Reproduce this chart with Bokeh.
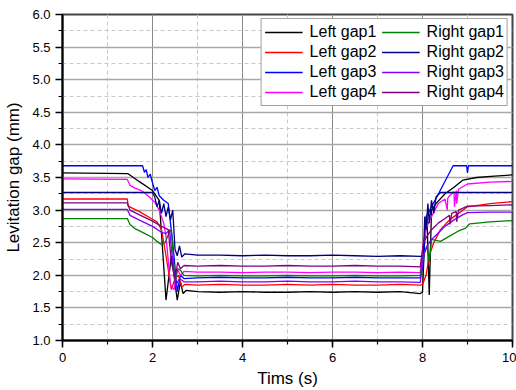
from bokeh.plotting import figure
from bokeh.models import Legend, LegendItem, SingleIntervalTicker, Range1d, CustomJSTickFormatter
from bokeh.embed import file_html
from bokeh.resources import INLINE

FONT = "Liberation Sans"

# ---------------- data ----------------
t_left1 = [0, 1.45, 1.7, 2.0, 2.15, 2.3, 2.42, 2.55, 2.62, 2.68, 2.75, 3.0, 3.5, 4.0, 4.5, 5.0, 5.5,
           6.0, 6.5, 7.0, 7.5, 7.95, 8.0, 8.05, 8.1, 8.15, 8.2, 8.3, 8.5, 8.7, 8.9, 9.2, 9.6, 10]
y_left1 = [3.57, 3.56, 3.44, 3.30, 3.15, 1.62, 2.30, 1.62, 1.90, 1.72, 1.77, 1.75, 1.74, 1.75, 1.74,
           1.74, 1.75, 1.74, 1.75, 1.74, 1.75, 1.72, 1.74, 2.60, 2.90, 1.70, 3.00, 3.10, 3.25, 3.35,
           3.46, 3.50, 3.52, 3.54]

t_left2 = [0, 1.44, 1.46, 1.7, 2.0, 2.1, 2.2, 2.3, 2.42, 2.5, 2.58, 2.65, 2.72, 3.0, 3.5, 4.0, 4.5,
           5.0, 5.5, 6.0, 6.5, 7.0, 7.5, 7.95, 8.0, 8.08, 8.15, 8.25, 8.4, 8.6, 8.8, 9.0, 9.5, 10]
y_left2 = [3.17, 3.17, 3.06, 2.98, 2.86, 2.82, 2.70, 2.30, 1.78, 1.95, 2.00, 1.82, 1.86, 1.85, 1.86,
           1.85, 1.85, 1.86, 1.85, 1.86, 1.85, 1.85, 1.86, 1.85, 1.86, 2.00, 2.30, 2.50, 2.70, 2.85,
           2.95, 3.05, 3.10, 3.13]

t_left3 = [0, 1.78, 1.82, 1.86, 1.9, 1.95, 2.0, 2.05, 2.1, 2.15, 2.25, 2.35, 2.45, 2.55, 2.62, 2.7,
           3.0, 3.5, 4.0, 4.5, 5.0, 5.5, 6.0, 6.5, 7.0, 7.5, 7.95, 8.02, 8.08, 8.2, 8.37, 8.68,
           8.98, 9.0, 9.02, 10]
y_left3 = [3.68, 3.68, 3.58, 3.62, 3.50, 3.55, 3.42, 3.30, 3.35, 3.22, 3.15, 3.10, 2.50, 1.75, 2.00,
           1.95, 1.96, 1.97, 1.96, 1.96, 1.97, 1.96, 1.96, 1.97, 1.96, 1.96, 1.96, 2.20, 2.90, 3.05,
           3.27, 3.68, 3.68, 3.57, 3.68, 3.68]

t_left4 = [0, 1.44, 1.5, 1.6, 1.75, 1.9, 2.05, 2.15, 2.25, 2.3, 2.4, 2.48, 2.55, 2.62, 2.7, 3.0,
           3.5, 4.0, 4.5, 5.0, 5.5, 6.0, 6.5, 7.0, 7.5, 7.95, 8.02, 8.1, 8.2, 8.35, 8.5, 8.55,
           8.56, 8.6, 8.7, 8.71, 8.75, 8.76, 8.8, 9.0, 9.5, 10]
y_left4 = [3.48, 3.47, 3.38, 3.34, 3.30, 3.22, 3.12, 3.00, 2.80, 2.60, 1.85, 1.78, 2.10, 2.00, 2.06,
           2.05, 2.05, 2.04, 2.05, 2.05, 2.04, 2.05, 2.05, 2.04, 2.05, 2.04, 2.50, 2.75, 2.90, 3.10,
           3.17, 3.00, 3.18, 3.22, 3.28, 3.05, 3.30, 3.10, 3.32, 3.40, 3.43, 3.44]

t_right1 = [0, 1.44, 1.5, 1.6, 1.8, 2.0, 2.1, 2.2, 2.28, 2.35, 2.42, 2.5, 2.56, 2.62, 2.7, 3.0,
            3.5, 4.0, 4.5, 5.0, 5.5, 6.0, 6.5, 7.0, 7.5, 7.95, 8.02, 8.1, 8.15, 8.2, 8.4, 8.6,
            8.8, 8.95, 9.05, 9.5, 10]
y_right1 = [2.87, 2.87, 2.78, 2.72, 2.65, 2.58, 2.52, 2.47, 2.50, 2.62, 2.70, 1.90, 2.10, 2.08,
            2.00, 1.99, 2.00, 1.99, 1.99, 2.00, 1.99, 1.99, 2.00, 1.99, 1.99, 2.00, 2.30, 2.45,
            2.20, 2.55, 2.52, 2.60, 2.68, 2.72, 2.79, 2.82, 2.84]

t_right2 = [0, 2.0, 2.05, 2.1, 2.15, 2.2, 2.25, 2.3, 2.35, 2.4, 2.45, 2.5, 2.55, 2.6, 2.65, 2.72,
            3.0, 3.5, 4.0, 4.5, 5.0, 5.5, 6.0, 6.5, 7.0, 7.5, 7.95, 8.02, 8.05, 8.08, 8.12, 8.15,
            8.2, 8.25, 8.3, 8.4, 10]
y_right2 = [3.27, 3.27, 3.20, 3.05, 3.15, 2.95, 3.10, 2.90, 3.05, 2.85, 3.00, 2.40, 2.30, 2.45,
            2.28, 2.33, 2.31, 2.31, 2.30, 2.31, 2.30, 2.30, 2.31, 2.30, 2.29, 2.30, 2.29, 2.30,
            2.90, 2.70, 3.10, 2.80, 3.15, 2.95, 3.20, 3.27, 3.27]

t_right3 = [0, 1.44, 1.5, 1.7, 2.0, 2.2, 2.3, 2.38, 2.45, 2.52, 2.6, 2.7, 3.0, 3.5, 4.0, 4.5, 5.0,
            5.5, 6.0, 6.5, 7.0, 7.5, 7.95, 8.02, 8.1, 8.2, 8.35, 8.5, 8.7, 8.9, 9.0, 9.5, 10]
y_right3 = [3.01, 3.01, 2.92, 2.85, 2.75, 2.66, 2.64, 2.70, 2.20, 1.85, 1.95, 1.90, 1.90, 1.91,
            1.90, 1.90, 1.91, 1.90, 1.90, 1.91, 1.90, 1.90, 1.89, 2.30, 2.45, 2.55, 2.65, 2.75,
            2.85, 2.93, 2.96, 2.97, 2.97]

t_right4 = [0, 1.44, 1.5, 1.7, 2.0, 2.2, 2.35, 2.42, 2.5, 2.56, 2.62, 2.7, 3.0, 3.5, 4.0, 4.5, 5.0,
            5.5, 6.0, 6.5, 7.0, 7.5, 7.95, 8.02, 8.1, 8.2, 8.35, 8.5, 8.6, 8.61, 8.65, 8.75, 8.76,
            8.8, 9.0, 9.5, 10]
y_right4 = [3.11, 3.11, 3.00, 2.93, 2.83, 2.75, 2.70, 2.20, 1.95, 2.20, 2.10, 2.15, 2.14, 2.15,
            2.14, 2.14, 2.15, 2.14, 2.14, 2.15, 2.14, 2.14, 2.13, 2.50, 2.60, 2.70, 2.80, 2.87,
            2.92, 2.78, 2.95, 2.98, 2.82, 3.00, 3.06, 3.07, 3.08]

labels = ["Left gap1", "Left gap2", "Left gap3", "Left gap4",
          "Right gap1", "Right gap2", "Right gap3", "Right gap4"]
colors = ["#000000", "#ff0000", "#0000ff", "#ff00ff",
          "#008000", "#000080", "#8000ff", "#800080"]
series = [(t_left1, y_left1), (t_left2, y_left2), (t_left3, y_left3), (t_left4, y_left4),
          (t_right1, y_right1), (t_right2, y_right2), (t_right3, y_right3), (t_right4, y_right4)]

# ---------------- figure ----------------
p = figure(width=516, height=390, output_backend="svg", toolbar_location=None,
           x_range=Range1d(0, 10), y_range=Range1d(1, 6),
           min_border_left=62, min_border_right=4, min_border_top=14, min_border_bottom=44)

renderers = []
for (tx, ty), c in zip(series, colors):
    r = p.line(tx, ty, line_color=c, line_width=1.3)
    renderers.append(r)

p.xaxis.ticker = SingleIntervalTicker(interval=2, num_minor_ticks=2)
p.yaxis.ticker = SingleIntervalTicker(interval=0.5, num_minor_ticks=2)
p.yaxis.formatter = CustomJSTickFormatter(code="return tick.toFixed(1);")

for ax in (p.xaxis, p.yaxis):
    ax.axis_line_width = 2
    ax.axis_line_color = "#000000"
    ax.major_tick_line_color = "#000000"
    ax.minor_tick_line_color = "#000000"
    ax.major_tick_line_width = 1.5
    ax.minor_tick_line_width = 1.2
    ax.major_tick_out = 7
    ax.major_tick_in = 0
    ax.minor_tick_out = 4
    ax.minor_tick_in = 0
    ax.major_label_text_font = FONT
    ax.major_label_text_font_size = "13px"
    ax.major_label_text_color = "#000000"
    ax.axis_label_text_font = FONT
    ax.axis_label_text_font_size = "17px"
    ax.axis_label_text_font_style = "normal"
    ax.axis_label_text_color = "#000000"

p.xaxis.axis_label = "Tims (s)"
p.yaxis.axis_label = "Levitation gap (mm)"
p.xaxis.axis_label_standoff = 4
p.yaxis.axis_label_standoff = 6

p.xgrid.grid_line_color = "#8a8a8a"
p.xgrid.grid_line_width = 1
p.ygrid.grid_line_color = "#a8a8a8"
p.ygrid.grid_line_width = 1.6
for g in (p.xgrid, p.ygrid):
    g.minor_grid_line_color = "#c8c8c8"
    g.minor_grid_line_dash = "4 3"
    g.minor_grid_line_width = 1

p.outline_line_color = "#444444"
p.outline_line_width = 2
p.background_fill_color = "#ffffff"
p.border_fill_color = "#ffffff"

items = [LegendItem(label=l, renderers=[r]) for l, r in zip(labels, renderers)]
legend = Legend(items=items, ncols=2, location="top_right")
legend.margin = 4
legend.padding = 3
legend.spacing = 0
legend.label_height = 20
legend.glyph_height = 20
legend.glyph_width = 38
legend.label_standoff = 7
legend.label_width = 72
legend.label_text_font = FONT
legend.label_text_font_size = "16px"
legend.label_text_color = "#000000"
legend.border_line_color = "#444444"
legend.border_line_width = 1.5
legend.background_fill_alpha = 1
p.add_layout(legend)

open("out.html", "w").write(file_html(p, INLINE))
